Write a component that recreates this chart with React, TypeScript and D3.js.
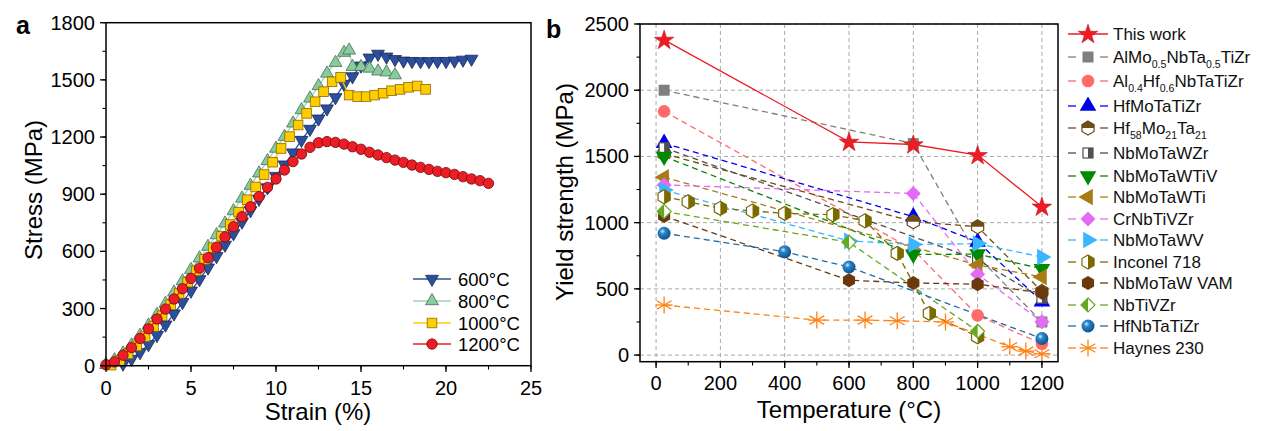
import React from "react";
import * as d3 from "d3";

const FONT = "'Liberation Sans', Arial, Helvetica, sans-serif";

// ---------------- Panel a data (strain %, stress MPa) ----------------
const curve600: [number, number][] = [
  [1.0, 10], [1.5, 35], [2.0, 70], [2.5, 112], [3.0, 160], [3.5, 215], [4.0, 273], [4.5, 333],
  [5.0, 393], [5.5, 453], [6.0, 514], [6.5, 574], [7.0, 634], [7.5, 694], [8.0, 755], [8.5, 815],
  [9.0, 875], [9.5, 935], [10.0, 995], [10.5, 1055], [11.0, 1118], [11.5, 1184], [12.0, 1242],
  [12.5, 1296], [13.0, 1349], [13.5, 1408], [14.0, 1478], [14.5, 1518], [15.0, 1574], [15.5, 1616],
  [16.0, 1636], [16.5, 1621], [17.0, 1608], [17.5, 1600], [18.0, 1598], [18.5, 1597], [19.0, 1597],
  [19.5, 1598], [20.0, 1598], [20.5, 1600], [21.0, 1605], [21.5, 1610],
];
const curve800: [number, number][] = [
  [0, 5], [0.5, 30], [1.0, 65], [1.5, 108], [2.0, 158], [2.5, 212], [3.0, 268], [3.5, 326],
  [4.0, 385], [4.5, 444], [5.0, 504], [5.5, 564], [6.0, 625], [6.5, 686], [7.0, 747], [7.5, 812],
  [8.0, 878], [8.5, 945], [9.0, 1010], [9.5, 1075], [10.0, 1140], [10.5, 1202], [11.0, 1272],
  [11.5, 1342], [12.0, 1403], [12.5, 1468], [13.0, 1534], [13.5, 1590], [14.0, 1643], [14.3, 1655],
  [14.5, 1569], [15.0, 1569], [15.5, 1560], [16.0, 1545], [16.5, 1540], [17.0, 1525],
];
const curve1000: [number, number][] = [
  [0.3, 3], [0.8, 27], [1.3, 62], [1.8, 104], [2.3, 153], [2.8, 206], [3.3, 262], [3.8, 320],
  [4.3, 379], [4.8, 438], [5.3, 498], [5.8, 558], [6.3, 619], [6.8, 680], [7.3, 741], [7.8, 806],
  [8.3, 871], [8.8, 938], [9.3, 1003], [9.8, 1068], [10.3, 1140], [10.8, 1202], [11.3, 1263],
  [11.8, 1324], [12.3, 1385], [12.8, 1438], [13.3, 1490], [13.8, 1513], [14.3, 1420], [14.8, 1412],
  [15.3, 1412], [15.8, 1420], [16.3, 1430], [16.8, 1443], [17.3, 1450], [17.8, 1461], [18.3, 1468],
  [18.8, 1450],
];
const curve1200: [number, number][] = [
  [0, 5], [0.5, 20], [1.0, 55], [1.5, 95], [2.0, 143], [2.5, 194], [3.0, 245], [3.5, 297],
  [4.0, 350], [4.5, 404], [5.0, 458], [5.5, 512], [6.0, 567], [6.5, 622], [7.0, 676], [7.5, 729],
  [8.0, 782], [8.5, 834], [9.0, 887], [9.5, 936], [10.0, 980], [10.5, 1027], [11.0, 1071],
  [11.5, 1111], [12.0, 1146], [12.5, 1170], [13.0, 1176], [13.5, 1172], [14.0, 1163], [14.5, 1149],
  [15.0, 1136], [15.5, 1120], [16.0, 1106], [16.5, 1092], [17.0, 1079], [17.5, 1067], [18.0, 1053],
  [18.5, 1041], [19.0, 1030], [19.5, 1020], [20.0, 1013], [20.5, 1004], [21.0, 992], [21.5, 980],
  [22.0, 971], [22.5, 957],
];
const aLegendLabels = ["600°C", "800°C", "1000°C", "1200°C"];
const aXTicks = [0, 5, 10, 15, 20, 25];
const aYTicks = [0, 300, 600, 900, 1200, 1500, 1800];

// ---------------- Panel b data (temperature °C, yield strength MPa) ----------------
const tThisWork = [25, 600, 800, 1000, 1200];
const yThisWork = [2380, 1610, 1590, 1510, 1120];
const tAlMoNbTaTiZr = [25, 800, 1000, 1200];
const yAlMoNbTaTiZr = [2000, 1597, 745, 250];
const tAlHfNbTaTiZr = [25, 800, 1000, 1200];
const yAlHfNbTaTiZr = [1840, 796, 300, 85];
const tHfMoTaTiZr = [25, 800, 1000, 1200];
const yHfMoTaTiZr = [1600, 1045, 855, 404];
const tHfMoTa = [25, 800, 1000, 1200];
const yHfMoTa = [1520, 1007, 969, 480];
const tNbMoTaWZr = [25, 1000, 1200];
const yNbMoTaWZr = [1565, 720, 430];
const tNbMoTaWTiV = [25, 800, 1000, 1200];
const yNbMoTaWTiV = [1500, 760, 762, 652];
const tNbMoTaWTi = [25, 1000, 1200];
const yNbMoTaWTi = [1343, 680, 590];
const tCrNbTiVZr = [25, 800, 1000, 1200];
const yCrNbTiVZr = [1285, 1220, 610, 252];
const tNbMoTaWV = [25, 600, 800, 1000, 1200];
const yNbMoTaWV = [1246, 862, 835, 842, 740];
const tInconel = [25, 100, 200, 300, 400, 550, 650, 750, 850, 1000];
const yInconel = [1196, 1158, 1108, 1088, 1070, 1060, 1014, 768, 315, 138];
const tNbMoTaWVAM = [25, 600, 800, 1000, 1200];
const yNbMoTaWVAM = [1050, 565, 545, 535, 470];
const tNbTiVZr = [25, 600, 1000];
const yNbTiVZr = [1085, 852, 180];
const tHfNbTaTiZr = [25, 400, 600, 1200];
const yHfNbTaTiZr = [920, 780, 665, 125];
const tHaynes = [25, 500, 650, 750, 900, 1100, 1150, 1200];
const yHaynes = [378, 264, 264, 259, 250, 63, 30, 10];

// legend labels (text parts; "s" = subscript)
const bLabels: [string, string][][] = [
  [["This work", ""]],
  [["AlMo", ""], ["0.5", "s"], ["NbTa", ""], ["0.5", "s"], ["TiZr", ""]],
  [["Al", ""], ["0.4", "s"], ["Hf", ""], ["0.6", "s"], ["NbTaTiZr", ""]],
  [["HfMoTaTiZr", ""]],
  [["Hf", ""], ["58", "s"], ["Mo", ""], ["21", "s"], ["Ta", ""], ["21", "s"]],
  [["NbMoTaWZr", ""]],
  [["NbMoTaWTiV", ""]],
  [["NbMoTaWTi", ""]],
  [["CrNbTiVZr", ""]],
  [["NbMoTaWV", ""]],
  [["Inconel 718", ""]],
  [["NbMoTaW VAM", ""]],
  [["NbTiVZr", ""]],
  [["HfNbTaTiZr", ""]],
  [["Haynes 230", ""]],
];
const bXTicks = [0, 200, 400, 600, 800, 1000, 1200];
const bYTicks = [0, 500, 1000, 1500, 2000, 2500];

type Kind =
  | "star" | "square" | "circle" | "triUp" | "hexTop" | "halfSquare" | "triDown" | "triLeft"
  | "diamond" | "triRight" | "hexRight" | "hex" | "halfDiamond" | "sphere" | "asterisk";

const bSeries: { t: number[]; y: number[]; color: string; kind: Kind; solid?: boolean }[] = [
  { t: tThisWork, y: yThisWork, color: "#ee1c25", kind: "star", solid: true },
  { t: tAlMoNbTaTiZr, y: yAlMoNbTaTiZr, color: "#7f7f7f", kind: "square" },
  { t: tAlHfNbTaTiZr, y: yAlHfNbTaTiZr, color: "#ff6a6a", kind: "circle" },
  { t: tHfMoTaTiZr, y: yHfMoTaTiZr, color: "#0000ee", kind: "triUp" },
  { t: tHfMoTa, y: yHfMoTa, color: "#6b4e16", kind: "hexTop" },
  { t: tNbMoTaWZr, y: yNbMoTaWZr, color: "#505050", kind: "halfSquare" },
  { t: tNbMoTaWTiV, y: yNbMoTaWTiV, color: "#008a00", kind: "triDown" },
  { t: tNbMoTaWTi, y: yNbMoTaWTi, color: "#a87c12", kind: "triLeft" },
  { t: tCrNbTiVZr, y: yCrNbTiVZr, color: "#e26cf5", kind: "diamond" },
  { t: tNbMoTaWV, y: yNbMoTaWV, color: "#38b6ff", kind: "triRight" },
  { t: tInconel, y: yInconel, color: "#7b6a00", kind: "hexRight" },
  { t: tNbMoTaWVAM, y: yNbMoTaWVAM, color: "#6b3a0c", kind: "hex" },
  { t: tNbTiVZr, y: yNbTiVZr, color: "#66a81e", kind: "halfDiamond" },
  { t: tHfNbTaTiZr, y: yHfNbTaTiZr, color: "#1a6eaa", kind: "sphere" },
  { t: tHaynes, y: yHaynes, color: "#ff8012", kind: "asterisk" },
];

// ---------------- scales ----------------
const ax = d3.scaleLinear().domain([0, 25]).range([106, 531]);
const ay = d3.scaleLinear().domain([0, 1800]).range([365.7, 22.7]);
const bx = d3.scaleLinear().domain([-50, 1250]).range([640, 1058]);
const by = d3.scaleLinear().domain([-50, 2500]).range([361.7, 24]);

const pts = (arr: [number, number][]) => arr.map((p) => p.join(",")).join(" ");

function Marker({ kind, color, x, y }: { kind: Kind; color: string; x: number; y: number }) {
  const r = 7;
  const rc = r * Math.cos(Math.PI / 6);
  const hexFull: [number, number][] = [[0, -r], [rc, -r / 2], [rc, r / 2], [0, r], [-rc, r / 2], [-rc, -r / 2]];
  switch (kind) {
    case "star":
      return <path transform={`translate(${x},${y + 0.5})`} d={d3.symbol(d3.symbolStar, 118)() || ""} fill={color} stroke="#c01018" strokeWidth={0.6} />;
    case "square":
      return <rect x={x - 5.5} y={y - 5.5} width={11} height={11} fill={color} />;
    case "circle":
      return <circle cx={x} cy={y} r={6.3} fill={color} />;
    case "triUp":
      return <path transform={`translate(${x},${y})`} d={d3.symbol(d3.symbolTriangle, 120)() || ""} fill={color} />;
    case "triDown":
      return <path transform={`translate(${x},${y}) rotate(180)`} d={d3.symbol(d3.symbolTriangle, 120)() || ""} fill={color} />;
    case "triLeft":
      return <path transform={`translate(${x},${y}) rotate(-90)`} d={d3.symbol(d3.symbolTriangle, 120)() || ""} fill={color} />;
    case "triRight":
      return <path transform={`translate(${x},${y}) rotate(90)`} d={d3.symbol(d3.symbolTriangle, 120)() || ""} fill={color} />;
    case "diamond":
      return <polygon transform={`translate(${x},${y})`} points={pts([[0, -7.5], [7.5, 0], [0, 7.5], [-7.5, 0]])} fill={color} />;
    case "halfDiamond":
      return (
        <g transform={`translate(${x},${y})`}>
          <polygon points={pts([[0, -7], [7, 0], [0, 7], [-7, 0]])} fill="#fff" stroke={color} strokeWidth={1.2} />
          <polygon points={pts([[0, -7], [0, 7], [-7, 0]])} fill={color} />
        </g>
      );
    case "halfSquare":
      return (
        <g transform={`translate(${x},${y})`}>
          <rect x={-5} y={-5} width={10} height={10} fill="#fff" stroke={color} strokeWidth={1.2} />
          <rect x={0} y={-5} width={5} height={10} fill={color} />
        </g>
      );
    case "hex":
      return <polygon transform={`translate(${x},${y})`} points={pts(hexFull)} fill={color} />;
    case "hexTop":
      return (
        <g transform={`translate(${x},${y})`}>
          <polygon points={pts(hexFull)} fill="#fff" stroke={color} strokeWidth={1.2} />
          <polygon points={pts([[0, -r], [rc, -r / 2], [rc, 0], [-rc, 0], [-rc, -r / 2]])} fill={color} />
        </g>
      );
    case "hexRight":
      return (
        <g transform={`translate(${x},${y})`}>
          <polygon points={pts(hexFull)} fill="#fff" stroke={color} strokeWidth={1.2} />
          <polygon points={pts([[0, -r], [rc, -r / 2], [rc, r / 2], [0, r]])} fill={color} />
        </g>
      );
    case "sphere":
      return <circle cx={x} cy={y} r={6.5} fill="url(#sphereGrad)" />;
    case "asterisk": {
      const L = 8.5;
      const angles = [90, 30, 150, 0];
      return (
        <g transform={`translate(${x},${y})`} stroke={color} strokeWidth={1.3}>
          {angles.map((a) => {
            const dx = L * Math.cos((a * Math.PI) / 180);
            const dy = L * Math.sin((a * Math.PI) / 180);
            return <line key={a} x1={-dx} y1={-dy} x2={dx} y2={dy} />;
          })}
        </g>
      );
    }
  }
  return null;
}

// panel a markers
type AKind = "down" | "up" | "square" | "circle";
function AMarker({ kind, x, y, fill, stroke }: { kind: AKind; x: number; y: number; fill: string; stroke: string }) {
  if (kind === "circle") return <circle cx={x} cy={y} r={5.2} fill={fill} stroke={stroke} strokeWidth={0.8} />;
  if (kind === "square") return <rect x={x - 4.8} y={y - 4.8} width={9.6} height={9.6} fill={fill} stroke={stroke} strokeWidth={0.8} />;
  const s = d3.symbol(d3.symbolTriangle, 72)() || "";
  return <path transform={`translate(${x},${y})${kind === "down" ? " rotate(180)" : ""}`} d={s} fill={fill} stroke={stroke} strokeWidth={0.8} />;
}

const aSeries: { data: [number, number][]; kind: AKind; fill: string; stroke: string; line: string }[] = [
  { data: curve600, kind: "down", fill: "#2b4f9e", stroke: "#1b2a55", line: "#2b4f9e" },
  { data: curve800, kind: "up", fill: "#86cc9c", stroke: "#4c6b55", line: "#9ad8ae" },
  { data: curve1000, kind: "square", fill: "#ffcc00", stroke: "#8a6a00", line: "#ffcc00" },
  { data: curve1200, kind: "circle", fill: "#ee1c24", stroke: "#6a0c0c", line: "#ee1c24" },
];

function Label({ parts, x, y, size }: { parts: [string, string][]; x: number; y: number; size: number }) {
  let sub = false;
  return (
    <text x={x} y={y} fontSize={size} fontFamily={FONT} fill="#111">
      {parts.map(([t, k], i) => {
        const dy = k === "s" && !sub ? size * 0.3 : k !== "s" && sub ? -size * 0.3 : 0;
        sub = k === "s";
        return (
          <tspan key={i} dy={dy} fontSize={k === "s" ? size * 0.62 : size}>
            {t}
          </tspan>
        );
      })}
    </text>
  );
}

export default function App() {
  const lineA = d3.line<[number, number]>().x((d) => ax(d[0])).y((d) => ay(d[1]));
  const lineB = d3.line<number>();
  const aMinorX = d3.range(0, 25.01, 2.5);
  const aMinorY = d3.range(0, 1800.1, 150);
  const bMinorX = d3.range(0, 1200.1, 100);
  const bMinorY = d3.range(0, 2500.1, 250);

  const drawOrder = [...bSeries.slice(1), bSeries[0]];
  const legendY = [34, 57, 81, 106, 128, 153, 176, 197, 219, 240, 262, 283, 305, 326, 348];

  return (
    <div style={{ position: "absolute", left: 0, top: 0 }}>
      <svg width={1268} height={431} viewBox="0 0 1268 431" style={{ display: "block", background: "#fff" }}>
        <defs>
          <radialGradient id="sphereGrad" cx="0.38" cy="0.35" r="0.7">
            <stop offset="0" stopColor="#cfe8ff" />
            <stop offset="0.3" stopColor="#2a86c8" />
            <stop offset="1" stopColor="#0b4c86" />
          </radialGradient>
          <clipPath id="clipB">
            <rect x={640} y={24} width={418} height={337.7} />
          </clipPath>
        </defs>
        <rect width={1268} height={431} fill="#fff" />

        {/* ================= Panel a ================= */}
        <text x={16} y={34} fontSize={25} fontWeight="bold" fontFamily={FONT}>a</text>
        {aSeries.map((s, i) => (
          <g key={i}>
            <path d={lineA(s.data) || ""} fill="none" stroke={s.line} strokeWidth={1.3} />
            {s.data.map((d, j) => (
              <AMarker key={j} kind={s.kind} x={ax(d[0])} y={ay(d[1])} fill={s.fill} stroke={s.stroke} />
            ))}
          </g>
        ))}
        <rect x={106} y={22.7} width={425} height={343} fill="none" stroke="#000" strokeWidth={1.5} />
        {aXTicks.map((t) => (
          <g key={t}>
            <line x1={ax(t)} x2={ax(t)} y1={365.7} y2={372} stroke="#000" strokeWidth={1.3} />
            <text x={ax(t)} y={395} textAnchor="middle" fontSize={20} fontFamily={FONT}>{t}</text>
          </g>
        ))}
        {aMinorX.map((t) => (
          <line key={t} x1={ax(t)} x2={ax(t)} y1={365.7} y2={369.5} stroke="#000" strokeWidth={1.1} />
        ))}
        {aYTicks.map((t) => (
          <g key={t}>
            <line x1={100} x2={106} y1={ay(t)} y2={ay(t)} stroke="#000" strokeWidth={1.3} />
            <text x={95} y={ay(t) + 7} textAnchor="end" fontSize={20} fontFamily={FONT}>{t}</text>
          </g>
        ))}
        {aMinorY.map((t) => (
          <line key={t} x1={102.5} x2={106} y1={ay(t)} y2={ay(t)} stroke="#000" strokeWidth={1.1} />
        ))}
        <text x={318} y={420} textAnchor="middle" fontSize={24} fontFamily={FONT}>Strain (%)</text>
        <text transform="translate(42,190) rotate(-90)" textAnchor="middle" fontSize={24} fontFamily={FONT}>Stress (MPa)</text>
        {aSeries.map((s, i) => {
          const yy = [279, 301, 323, 344][i];
          return (
            <g key={i}>
              <line x1={413} x2={451} y1={yy} y2={yy} stroke={s.line} strokeWidth={1.3} />
              <AMarker kind={s.kind} x={432} y={yy} fill={s.fill} stroke={s.stroke} />
              <text x={458} y={yy + 6.5} fontSize={18.5} fontFamily={FONT}>{aLegendLabels[i]}</text>
            </g>
          );
        })}

        {/* ================= Panel b ================= */}
        <text x={546} y={38} fontSize={25} fontWeight="bold" fontFamily={FONT}>b</text>
        {bXTicks.map((t) => (
          <line key={t} x1={bx(t)} x2={bx(t)} y1={24} y2={361.7} stroke="#a8a8a8" strokeWidth={1} strokeDasharray="4,3" />
        ))}
        {bYTicks.map((t) => (
          <line key={t} x1={640} x2={1058} y1={by(t)} y2={by(t)} stroke="#a8a8a8" strokeWidth={1} strokeDasharray="4,3" />
        ))}
        <g clipPath="url(#clipB)">
          {drawOrder.map((s, i) => (
            <path
              key={"l" + i}
              d={lineB(s.t.map((t, j) => [bx(t), by(s.y[j])])) || ""}
              fill="none"
              stroke={s.color}
              strokeWidth={1.3}
              strokeDasharray={s.solid ? undefined : "6,4"}
            />
          ))}
        </g>
        {drawOrder.map((s, i) => (
          <g key={"m" + i}>
            {s.t.map((t, j) => (
              <Marker key={j} kind={s.kind} color={s.color} x={bx(t)} y={by(s.y[j])} />
            ))}
          </g>
        ))}
        <rect x={640} y={24} width={418} height={337.7} fill="none" stroke="#000" strokeWidth={1.5} />
        {bXTicks.map((t) => (
          <g key={t}>
            <line x1={bx(t)} x2={bx(t)} y1={361.7} y2={368} stroke="#000" strokeWidth={1.3} />
            <text x={bx(t)} y={390} textAnchor="middle" fontSize={20} fontFamily={FONT}>{t}</text>
          </g>
        ))}
        {bMinorX.map((t) => (
          <line key={t} x1={bx(t)} x2={bx(t)} y1={361.7} y2={365.5} stroke="#000" strokeWidth={1.1} />
        ))}
        {bYTicks.map((t) => (
          <g key={t}>
            <line x1={634} x2={640} y1={by(t)} y2={by(t)} stroke="#000" strokeWidth={1.3} />
            <text x={629} y={by(t) + 7} textAnchor="end" fontSize={20} fontFamily={FONT}>{t}</text>
          </g>
        ))}
        {bMinorY.map((t) => (
          <line key={t} x1={636.5} x2={640} y1={by(t)} y2={by(t)} stroke="#000" strokeWidth={1.1} />
        ))}
        <text x={849} y={418} textAnchor="middle" fontSize={24} fontFamily={FONT}>Temperature (°C)</text>
        <text transform="translate(573,192) rotate(-90)" textAnchor="middle" fontSize={24} fontFamily={FONT}>Yield strength (MPa)</text>

        {bSeries.map((s, i) => {
          const yy = legendY[i];
          return (
            <g key={"lg" + i}>
              {s.solid ? (
                <line x1={1068} x2={1108} y1={yy} y2={yy} stroke={s.color} strokeWidth={1.3} />
              ) : (
                <>
                  <line x1={1068} x2={1076} y1={yy} y2={yy} stroke={s.color} strokeWidth={1.3} />
                  <line x1={1100} x2={1108} y1={yy} y2={yy} stroke={s.color} strokeWidth={1.3} />
                </>
              )}
              <Marker kind={s.kind} color={s.color} x={1088} y={yy} />
              <Label parts={bLabels[i]} x={1113} y={yy + 6} size={17} />
            </g>
          );
        })}
      </svg>
    </div>
  );
}
